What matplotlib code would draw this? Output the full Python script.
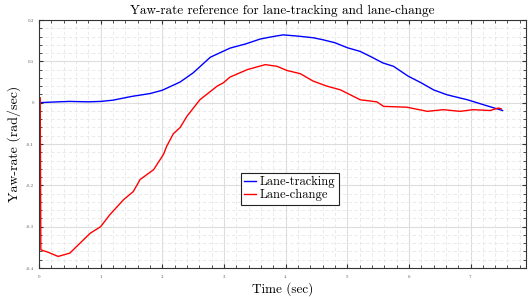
"""
plot.py — Yaw-rate reference for lane-tracking and lane-change
"""
import matplotlib
matplotlib.use("Agg")
import matplotlib.pyplot as plt
from matplotlib.ticker import MultipleLocator, FuncFormatter

# lane-tracking (blue)
t_track = [0.0, 0.3, 0.5, 0.8, 1.0, 1.2, 1.5, 1.8, 2.0, 2.29, 2.5, 2.78, 3.1, 3.35,
           3.59, 3.8, 3.96, 4.2, 4.45, 4.61, 4.8, 5.0, 5.21, 5.4, 5.58, 5.75, 5.99,
           6.2, 6.4, 6.62, 6.95, 7.21, 7.52]
yaw_track = [0.0, 0.002, 0.003, 0.002, 0.003, 0.006, 0.015, 0.022, 0.03, 0.050, 0.072,
             0.110, 0.132, 0.142, 0.154, 0.160, 0.164, 0.161, 0.157, 0.152, 0.145,
             0.133, 0.124, 0.110, 0.096, 0.088, 0.064, 0.048, 0.031, 0.019, 0.007,
             -0.005, -0.019]

# lane-change (red)
t_change = [0.0, 0.02, 0.03, 0.15, 0.31, 0.5, 0.61, 0.83, 1.0, 1.15, 1.37, 1.53, 1.64,
            1.86, 2.02, 2.07, 2.18, 2.29, 2.4, 2.61, 2.89, 2.99, 3.1, 3.38, 3.67, 3.86,
            4.02, 4.24, 4.45, 4.67, 4.89, 5.05, 5.21, 5.48, 5.59, 5.97, 6.3, 6.56, 6.83,
            7.04, 7.32, 7.45, 7.5]
yaw_change = [0.012, 0.012, -0.356, -0.362, -0.372, -0.364, -0.348, -0.316, -0.300,
              -0.271, -0.235, -0.215, -0.186, -0.162, -0.125, -0.106, -0.075, -0.060,
              -0.033, 0.007, 0.040, 0.048, 0.062, 0.080, 0.092, 0.088, 0.078, 0.070,
              0.052, 0.040, 0.031, 0.019, 0.007, 0.002, -0.009, -0.011, -0.021,
              -0.017, -0.021, -0.017, -0.019, -0.013, -0.015]

plt.rcParams["font.family"] = "serif"
plt.rcParams["font.serif"] = ["cmr10", "DejaVu Serif"]
plt.rcParams["mathtext.fontset"] = "cm"
plt.rcParams["axes.unicode_minus"] = False
plt.rcParams["axes.formatter.use_mathtext"] = True

fig = plt.figure(figsize=(5.29, 2.97), dpi=100)
ax = fig.add_axes([0.0737, 0.0976, 0.9206, 0.8351])

ax.plot(t_track, yaw_track, color="#0000ff", lw=1.0, label="Lane-tracking")
ax.plot(t_change, yaw_change, color="#ff0000", lw=1.0, label="Lane-change")

ax.set_xlim(0, 7.9)
ax.set_ylim(-0.4, 0.2)
ax.xaxis.set_major_locator(MultipleLocator(1))
ax.xaxis.set_minor_locator(MultipleLocator(0.2))
ax.yaxis.set_major_locator(MultipleLocator(0.1))
ax.yaxis.set_minor_locator(MultipleLocator(0.02))
ax.yaxis.set_major_formatter(FuncFormatter(
    lambda v, p: "0" if abs(v) < 1e-9 else f"{v:g}"))

ax.grid(which="major", color="#dddddd", lw=0.8, ls="-")
ax.grid(which="minor", color="#e6e6e6", lw=0.6, ls=(0, (4, 3)))
ax.set_axisbelow(True)

ax.tick_params(which="both", direction="in", top=True, right=True,
               labelsize=3.5, labelcolor="#555555", color="#333333")
ax.tick_params(which="major", length=3, width=0.8)
ax.tick_params(which="minor", length=2, width=0.6)
for s in ax.spines.values():
    s.set_color("#333333")
    s.set_linewidth(0.8)

ax.set_title("Yaw-rate reference for lane-tracking and lane-change", fontsize=9.5, pad=4)
ax.set_xlabel("Time (sec)", fontsize=9.5, labelpad=2)
ax.set_ylabel("Yaw-rate (rad/sec)", fontsize=10, labelpad=4)

leg = ax.legend(loc="center", bbox_to_anchor=(0.515, 0.32), fontsize=9,
                fancybox=False, framealpha=1, edgecolor="#222222",
                handlelength=1.0, handletextpad=0.3, borderpad=0.25,
                labelspacing=0.1, borderaxespad=0)
leg.get_frame().set_linewidth(0.8)

fig.savefig("out.png", dpi=100)
